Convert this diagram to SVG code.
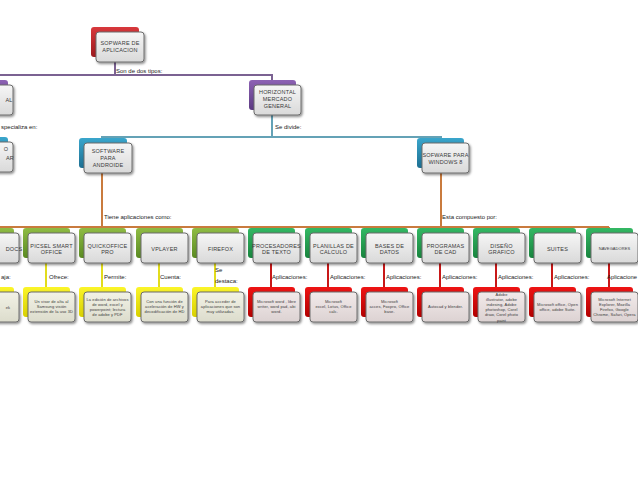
<svg xmlns="http://www.w3.org/2000/svg" width="638" height="479" viewBox="0 0 638 479">
<defs>
<linearGradient id="gf" x1="0" y1="0" x2="0" y2="1"><stop offset="0" stop-color="#f6f6f6"/><stop offset="1" stop-color="#d9d9d9"/></linearGradient>
<linearGradient id="gfy" x1="0" y1="0" x2="0" y2="1"><stop offset="0" stop-color="#f2f2e6"/><stop offset="1" stop-color="#dcdccc"/></linearGradient>
<linearGradient id="gfr" x1="0" y1="0" x2="0" y2="1"><stop offset="0" stop-color="#f2eaea"/><stop offset="1" stop-color="#dcd2d2"/></linearGradient>
<linearGradient id="cRed" x1="0" y1="0" x2="0" y2="1"><stop offset="0" stop-color="#d8383c"/><stop offset="1" stop-color="#9c1a1e"/></linearGradient>
<linearGradient id="cPur" x1="0" y1="0" x2="0" y2="1"><stop offset="0" stop-color="#8d62b4"/><stop offset="1" stop-color="#5c3a82"/></linearGradient>
<linearGradient id="cTeal" x1="0" y1="0" x2="0" y2="1"><stop offset="0" stop-color="#3aa6cc"/><stop offset="1" stop-color="#1d6f92"/></linearGradient>
<linearGradient id="cOl" x1="0" y1="0" x2="0" y2="1"><stop offset="0" stop-color="#8fbc44"/><stop offset="1" stop-color="#5a8a22"/></linearGradient>
<linearGradient id="cGr" x1="0" y1="0" x2="0" y2="1"><stop offset="0" stop-color="#34b864"/><stop offset="1" stop-color="#18843e"/></linearGradient>
<linearGradient id="cYe" x1="0" y1="0" x2="0" y2="1"><stop offset="0" stop-color="#fbf52a"/><stop offset="1" stop-color="#d8d000"/></linearGradient>
<linearGradient id="cRd" x1="0" y1="0" x2="0" y2="1"><stop offset="0" stop-color="#ee1414"/><stop offset="1" stop-color="#b20000"/></linearGradient>
<filter id="ds" x="-20%" y="-20%" width="150%" height="150%"><feDropShadow dx="1.2" dy="1.5" stdDeviation="1" flood-color="#000" flood-opacity="0.45"/></filter>
</defs>
<style>
.fr{fill:url(#gf);stroke:#6c6c6c;stroke-width:1;filter:url(#ds)}
.fy{fill:url(#gfy);stroke:#6c6c6c;stroke-width:1;filter:url(#ds)}
.frd{fill:url(#gfr);stroke:#6c6c6c;stroke-width:1;filter:url(#ds)}
.t{font-family:"Liberation Sans",Arial,sans-serif;font-size:5.5px;fill:#3a3a3a;text-anchor:middle;letter-spacing:0.2px}
.s{font-size:4px;letter-spacing:0.1px}
.lb{font-family:"Liberation Sans",Arial,sans-serif;font-size:6px;fill:#1a1a1a}
.c{fill:none;stroke-width:2}
</style>
<rect width="638" height="479" fill="#fff"/>
<g id="connectors">
<path class="c" stroke="#7b6292" d="M115 62V75M-5 75H272V80"/>
<path class="c" stroke="#64a2b6" d="M272 115V137M102 138V137H441V138"/>
<path class="c" stroke="#c97b3e" d="M102 173V227M441 173V227M-10 227H609M46 227V229M102 227V229M159 227V229M215 227V229M271 227V229M328 227V229M384 227V229M440 227V229M496 227V229M552 227V229M609 227V229"/>
<path class="c" stroke="#e2dc1c" d="M-10 263V288M46 263V288M102 263V288M159 263V288M215 263V288"/>
<path class="c" stroke="#c81818" d="M271 263V288M328 263V288M384 263V288M440 263V288M496 263V288M552 263V288M609 263V288"/>
</g>
<g id="labels">
<text class="lb" x="116" y="73">Son de dos tipos:</text>
<text class="lb" x="1" y="129">specializa en:</text>
<text class="lb" x="275" y="129">Se divide:</text>
<text class="lb" x="104" y="219">Tiene aplicaciones como:</text>
<text class="lb" x="442" y="219">Esta compuesto por:</text>
<text class="lb" x="1" y="279">aja:</text>
<text class="lb" x="49" y="279">Ofrece:</text>
<text class="lb" x="104" y="279">Permite:</text>
<text class="lb" x="160" y="279">Cuenta:</text>
<text class="lb" x="215" y="272">Se</text>
<text class="lb" x="215" y="283">destaca:</text>
<text class="lb" x="272" y="279">Aplicaciones:</text>
<text class="lb" x="330" y="279">Aplicaciones:</text>
<text class="lb" x="386" y="279">Aplicaciones:</text>
<text class="lb" x="442" y="279">Aplicaciones:</text>
<text class="lb" x="498" y="279">Aplicaciones:</text>
<text class="lb" x="554" y="279">Aplicaciones:</text>
<text class="lb" x="607" y="279" textLength="30" lengthAdjust="spacingAndGlyphs">Aplicacione</text>
</g>
<g id="n-sopware">
<rect x="91" y="27" width="48" height="30" rx="3" fill="url(#cRed)"/>
<rect class="fr" x="96" y="32" width="48" height="30" rx="3"/>
<text class="t" x="120" y="45">SOPWARE DE</text>
<text class="t" x="120" y="52">APLICACION</text>
</g>
<g id="n-vertical">
<rect x="-39" y="80" width="47" height="30" rx="3" fill="url(#cPur)"/>
<rect class="fr" x="-34" y="85" width="47" height="30" rx="3"/>
<text class="t" x="9" y="102" text-anchor="end">AL</text>
</g>
<g id="n-horizontal">
<rect x="249" y="80" width="47" height="30" rx="3" fill="url(#cPur)"/>
<rect class="fr" x="254" y="85" width="47" height="30" rx="3"/>
<text class="t" x="277.5" y="94">HORIZONTAL</text>
<text class="t" x="277.5" y="101">MERCADO</text>
<text class="t" x="277.5" y="108">GENERAL</text>
</g>
<g id="n-left2">
<rect x="-39" y="137" width="47" height="30" rx="3" fill="url(#cTeal)"/>
<rect class="fr" x="-34" y="142" width="47" height="30" rx="3"/>
<text class="t" x="6" y="151" text-anchor="end">O</text>
<text class="t" x="10" y="160" text-anchor="end">AR</text>
</g>
<g id="n-android">
<rect x="79" y="138" width="48" height="30" rx="3" fill="url(#cTeal)"/>
<rect class="fr" x="84" y="143" width="48" height="30" rx="3"/>
<text class="t" x="108" y="153">SOFTWARE</text>
<text class="t" x="108" y="160">PARA</text>
<text class="t" x="108" y="167">ANDROIDE</text>
</g>
<g id="n-windows">
<rect x="417" y="138" width="47" height="30" rx="3" fill="url(#cTeal)"/>
<rect class="fr" x="422" y="143" width="47" height="30" rx="3"/>
<text class="t" x="445.5" y="157">SOFWARE PARA</text>
<text class="t" x="445.5" y="164">WINDOWS 8</text>
</g>
<g id="n-docs">
<rect x="-33" y="228" width="47" height="30" rx="3" fill="url(#cOl)"/>
<rect class="fr" x="-28" y="233" width="47" height="30" rx="3"/>
<text class="t" x="14" y="250.5" text-anchor="end">DOCS</text>
</g>
<g id="n-picsel">
<rect x="23" y="228" width="47" height="30" rx="3" fill="url(#cOl)"/>
<rect class="fr" x="28" y="233" width="47" height="30" rx="3"/>
<text class="t" x="51.5" y="247.5">PICSEL SMART</text>
<text class="t" x="51.5" y="254">OFFICE</text>
</g>
<g id="n-quickoffice">
<rect x="79" y="228" width="47" height="30" rx="3" fill="url(#cOl)"/>
<rect class="fr" x="84" y="233" width="47" height="30" rx="3"/>
<text class="t" x="107.5" y="247.5">QUICKOFFICE</text>
<text class="t" x="107.5" y="254">PRO</text>
</g>
<g id="n-vplayer">
<rect x="136" y="228" width="47" height="30" rx="3" fill="url(#cOl)"/>
<rect class="fr" x="141" y="233" width="47" height="30" rx="3"/>
<text class="t" x="164.5" y="250.5">VPLAYER</text>
</g>
<g id="n-firefox">
<rect x="192" y="228" width="47" height="30" rx="3" fill="url(#cOl)"/>
<rect class="fr" x="197" y="233" width="47" height="30" rx="3"/>
<text class="t" x="220.5" y="250.5">FIREFOX</text>
</g>
<g id="n-procesadores">
<rect x="248" y="228" width="47" height="30" rx="3" fill="url(#cGr)"/>
<rect class="fr" x="253" y="233" width="47" height="30" rx="3"/>
<text class="t" x="276.5" y="247.5">PROCESADORES</text>
<text class="t" x="276.5" y="254">DE TEXTO</text>
</g>
<g id="n-planillas">
<rect x="305" y="228" width="47" height="30" rx="3" fill="url(#cGr)"/>
<rect class="fr" x="310" y="233" width="47" height="30" rx="3"/>
<text class="t" x="333.5" y="247.5">PLANILLAS DE</text>
<text class="t" x="333.5" y="254">CALCULO</text>
</g>
<g id="n-bases">
<rect x="361" y="228" width="47" height="30" rx="3" fill="url(#cGr)"/>
<rect class="fr" x="366" y="233" width="47" height="30" rx="3"/>
<text class="t" x="389.5" y="247.5">BASES DE</text>
<text class="t" x="389.5" y="254">DATOS</text>
</g>
<g id="n-cad">
<rect x="417" y="228" width="47" height="30" rx="3" fill="url(#cGr)"/>
<rect class="fr" x="422" y="233" width="47" height="30" rx="3"/>
<text class="t" x="445.5" y="247.5">PROGRAMAS</text>
<text class="t" x="445.5" y="254">DE CAD</text>
</g>
<g id="n-diseno">
<rect x="473" y="228" width="47" height="30" rx="3" fill="url(#cGr)"/>
<rect class="fr" x="478" y="233" width="47" height="30" rx="3"/>
<text class="t" x="501.5" y="247.5">DISEÑO</text>
<text class="t" x="501.5" y="254">GRAFICO</text>
</g>
<g id="n-suites">
<rect x="529" y="228" width="47" height="30" rx="3" fill="url(#cGr)"/>
<rect class="fr" x="534" y="233" width="47" height="30" rx="3"/>
<text class="t" x="557.5" y="250.5">SUITES</text>
</g>
<g id="n-navegadores">
<rect x="586" y="228" width="47" height="30" rx="3" fill="url(#cGr)"/>
<rect class="fr" x="591" y="233" width="47" height="30" rx="3"/>
<text class="t s" x="614.5" y="250">NAVEGADORES</text>
</g>
<g id="l-docs">
<rect x="-33" y="287" width="47" height="30" rx="3" fill="url(#cYe)"/>
<rect class="fy" x="-28" y="292" width="47" height="30" rx="3"/>
<text class="t s" x="8" y="308.5" text-anchor="end">ek</text>
</g>
<g id="l-picsel">
<rect x="23" y="287" width="47" height="30" rx="3" fill="url(#cYe)"/>
<rect class="fy" x="28" y="292" width="47" height="30" rx="3"/>
<text class="t s" x="51.5" y="303.4">Un visor de alta al</text>
<text class="t s" x="51.5" y="308.4">Samsung visión</text>
<text class="t s" x="51.5" y="313.4">extensión de la uso 3D</text>
</g>
<g id="l-quickoffice">
<rect x="79" y="287" width="47" height="30" rx="3" fill="url(#cYe)"/>
<rect class="fy" x="84" y="292" width="47" height="30" rx="3"/>
<text class="t s" x="107.5" y="300.9">La edición de archivos</text>
<text class="t s" x="107.5" y="305.9">de word, excel y</text>
<text class="t s" x="107.5" y="310.9">powerpoint; lectura</text>
<text class="t s" x="107.5" y="315.9">de adobe y PDF</text>
</g>
<g id="l-vplayer">
<rect x="136" y="287" width="47" height="30" rx="3" fill="url(#cYe)"/>
<rect class="fy" x="141" y="292" width="47" height="30" rx="3"/>
<text class="t s" x="164.5" y="303.4">Con una función de</text>
<text class="t s" x="164.5" y="308.4">aceleración de HW y</text>
<text class="t s" x="164.5" y="313.4">decodificación de HD</text>
</g>
<g id="l-firefox">
<rect x="192" y="287" width="47" height="30" rx="3" fill="url(#cYe)"/>
<rect class="fy" x="197" y="292" width="47" height="30" rx="3"/>
<text class="t s" x="220.5" y="303.4">Para acceder de</text>
<text class="t s" x="220.5" y="308.4">aplicaciones que son</text>
<text class="t s" x="220.5" y="313.4">muy utilizadas.</text>
</g>
<g id="l-procesadores">
<rect x="248" y="287" width="47" height="30" rx="3" fill="url(#cRd)"/>
<rect class="frd" x="253" y="292" width="47" height="30" rx="3"/>
<text class="t s" x="276.5" y="303.4">Microsoft word , libre</text>
<text class="t s" x="276.5" y="308.4">writer, word pad, abi</text>
<text class="t s" x="276.5" y="313.4">word.</text>
</g>
<g id="l-planillas">
<rect x="305" y="287" width="47" height="30" rx="3" fill="url(#cRd)"/>
<rect class="frd" x="310" y="292" width="47" height="30" rx="3"/>
<text class="t s" x="333.5" y="303.4">Microsoft</text>
<text class="t s" x="333.5" y="308.4">excel, Lotus, Office</text>
<text class="t s" x="333.5" y="313.4">calc.</text>
</g>
<g id="l-bases">
<rect x="361" y="287" width="47" height="30" rx="3" fill="url(#cRd)"/>
<rect class="frd" x="366" y="292" width="47" height="30" rx="3"/>
<text class="t s" x="389.5" y="303.4">Microsoft</text>
<text class="t s" x="389.5" y="308.4">acces, Foxpro, Office</text>
<text class="t s" x="389.5" y="313.4">base.</text>
</g>
<g id="l-cad">
<rect x="417" y="287" width="47" height="30" rx="3" fill="url(#cRd)"/>
<rect class="frd" x="422" y="292" width="47" height="30" rx="3"/>
<text class="t s" x="445.5" y="308.4">Autocad y blender.</text>
</g>
<g id="l-diseno">
<rect x="473" y="287" width="47" height="30" rx="3" fill="url(#cRd)"/>
<rect class="frd" x="478" y="292" width="47" height="30" rx="3"/>
<text class="t s" x="501.5" y="295.5">Adobe</text>
<text class="t s" x="501.5" y="300.7">illustrator, adobe</text>
<text class="t s" x="501.5" y="305.9">indesing, Adobe</text>
<text class="t s" x="501.5" y="311.1">photoshop, Corel</text>
<text class="t s" x="501.5" y="316.3">draw, Corel photo</text>
<text class="t s" x="501.5" y="321.5">paint</text>
</g>
<g id="l-suites">
<rect x="529" y="287" width="47" height="30" rx="3" fill="url(#cRd)"/>
<rect class="frd" x="534" y="292" width="47" height="30" rx="3"/>
<text class="t s" x="557.5" y="305.9">Microsoft office, Open</text>
<text class="t s" x="557.5" y="310.9">office, adobe Suite.</text>
</g>
<g id="l-navegadores">
<rect x="586" y="287" width="47" height="30" rx="3" fill="url(#cRd)"/>
<rect class="frd" x="591" y="292" width="47" height="30" rx="3"/>
<text class="t s" x="614.5" y="300.9">Microsoft Internet</text>
<text class="t s" x="614.5" y="305.9">Explorer, Mozilla</text>
<text class="t s" x="614.5" y="310.9">Firefox, Google</text>
<text class="t s" x="614.5" y="315.9">Chrome, Safari, Opera</text>
</g>
</svg>
